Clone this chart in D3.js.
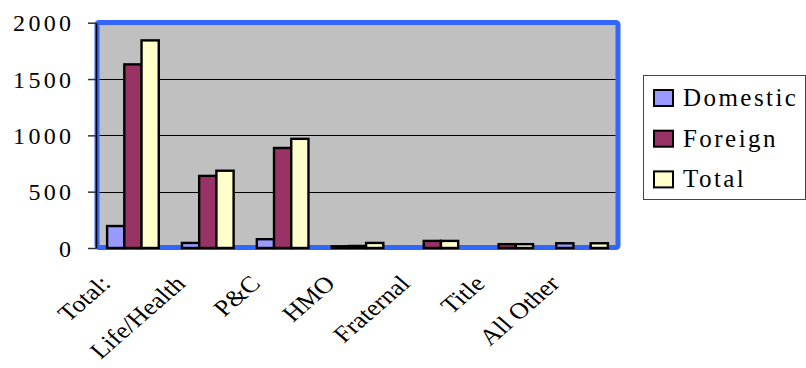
<!DOCTYPE html>
<html>
<head>
<meta charset="utf-8">
<script src="https://cdn.jsdelivr.net/npm/d3@7/dist/d3.min.js"></script>
<style>
  html, body { margin: 0; padding: 0; background: #fff; }
  svg { display: block; }
  svg text { font-family: "Liberation Serif", "Times New Roman", serif; }
</style>
</head>
<body>
<svg id="chart" width="806" height="368"></svg>
<script>
// Company counts by line of business
const categories = ["Total:", "Life/Health", "P&C", "HMO", "Fraternal", "Title", "All Other"];
const seriesNames = ["Domestic", "Foreign", "Total"];
const domestic = [195, 45, 78, 15, 0, 0, 42];
const foreign = [1630, 640, 888, 18, 63, 34, 0];
const total = [1843, 686, 969, 45, 63, 34, 42];
const yTicks = [0, 500, 1000, 1500, 2000];

const seriesValues = [domestic, foreign, total];
const colors = ["#9999FF", "#993366", "#FFFFCC"];
const serif = "Liberation Serif, Times New Roman, serif";
// category labels are slanted and slightly widened
const labelStretch = 1.15;

// widen the gaps between glyphs without changing the glyphs themselves
function spread(sel, gap) {
  sel.each(function () {
    const n = this.textContent.length;
    if (n < 2) return;
    const w = this.getComputedTextLength();
    d3.select(this)
      .attr("textLength", w + (n - 1) * gap)
      .attr("lengthAdjust", "spacing");
  });
}

const svg = d3.select("#chart");

const plot = { left: 97, right: 618, top: 22.5, bottom: 247.5 };

const y = d3.scaleLinear().domain([0, 2000]).range([248, 22.7]);
const x0 = d3.scaleBand().domain(categories).range([95.5, 619.5]).padding(0);
const x1 = d3.scaleBand().domain(seriesNames)
  .range([x0.bandwidth() * 0.155, x0.bandwidth() * 0.845]).padding(0);

// plot area with its blue frame
svg.append("rect")
  .attr("x", plot.left).attr("y", plot.top)
  .attr("width", plot.right - plot.left).attr("height", plot.bottom - plot.top)
  .attr("rx", 2)
  .attr("fill", "#C0C0C0")
  .attr("stroke", "#3366FF")
  .attr("stroke-width", 5);

// horizontal gridlines
svg.append("g")
  .selectAll("line")
  .data(yTicks.filter(t => t > 0 && t < 2000))
  .join("line")
  .attr("x1", plot.left + 2.5).attr("x2", plot.right - 2.5)
  .attr("y1", d => Math.round(y(d)) + 0.5).attr("y2", d => Math.round(y(d)) + 0.5)
  .attr("stroke", "#000")
  .attr("stroke-width", 1);

// bars
const groups = svg.append("g")
  .selectAll("g")
  .data(categories)
  .join("g")
  .attr("transform", d => `translate(${x0(d)},0)`);

groups.selectAll("rect")
  .data((c, i) => seriesNames.map((s, k) => ({ s, v: seriesValues[k][i], k })).filter(d => d.v > 0))
  .join("rect")
  .attr("x", d => x1(d.s))
  .attr("width", x1.bandwidth())
  .attr("y", d => y(d.v))
  .attr("height", d => y(0) - y(d.v))
  .attr("fill", d => colors[d.k])
  .attr("stroke", "#000")
  .attr("stroke-width", 2.4);

// value axis
const yAxis = d3.axisLeft(y).tickValues(yTicks).tickFormat(d3.format("d"))
  .tickSize(8).tickSizeOuter(0).tickPadding(17);
const gy = svg.append("g")
  .attr("transform", "translate(96,0)")
  .call(yAxis)
  .attr("font-family", serif);
gy.select(".domain").attr("stroke", "#000").attr("stroke-width", 1.5);
gy.selectAll(".tick line").attr("stroke", "#333").attr("stroke-width", 1.5);
gy.selectAll(".tick text")
  .attr("fill", "#000")
  .attr("font-size", 24)
  .attr("font-family", serif)
  .attr("dy", "0.34em")
  .call(spread, 3.3);

// category labels, slanted
svg.append("g")
  .selectAll("text")
  .data(categories)
  .join("text")
  .attr("transform", d => `translate(${x0(d) + x0.bandwidth() / 2 - 21},285) scale(${labelStretch},1) rotate(-45)`)
  .attr("text-anchor", "end")
  .attr("font-family", serif)
  .attr("font-size", 23)
  .attr("fill", "#000")
  .text(d => d);

// legend
const legend = svg.append("g");
legend.append("rect")
  .attr("x", 643.5).attr("y", 75.5)
  .attr("width", 162).attr("height", 124)
  .attr("fill", "#fff")
  .attr("stroke", "#444")
  .attr("stroke-width", 1);

const items = legend.selectAll("g")
  .data(seriesNames)
  .join("g")
  .attr("transform", (d, i) => `translate(0,${i * 40.7})`);

items.append("rect")
  .attr("x", 654).attr("y", 90)
  .attr("width", 19).attr("height", 16)
  .attr("fill", (d, i) => colors[i])
  .attr("stroke", "#000")
  .attr("stroke-width", 2);

items.append("text")
  .attr("x", 683).attr("y", 106)
  .attr("font-family", serif)
  .attr("font-size", 25)
  .attr("fill", "#000")
  .text(d => d)
  .call(spread, 2.45);
</script>
</body>
</html>
